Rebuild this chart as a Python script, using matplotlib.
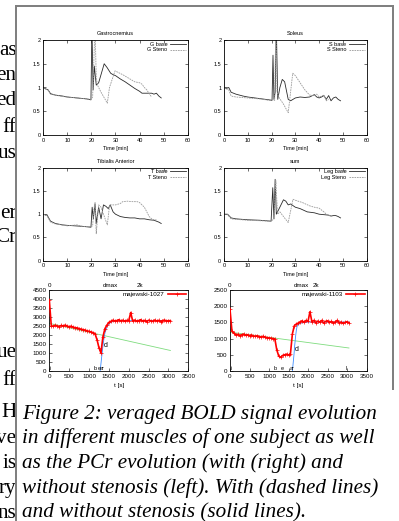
import numpy as np
import matplotlib
matplotlib.use("Agg")
import matplotlib.pyplot as plt
from matplotlib.patches import Rectangle
from matplotlib.transforms import blended_transform_factory

# ---------------- data ----------------
gas_base_t = [0, 1, 2, 3, 5, 8, 10, 12, 14, 16, 18, 19.8, 20.2, 20.7, 21.2, 22, 23, 25.3, 26.5, 28, 29, 30,
              32, 34, 36, 38, 40, 41, 43, 45, 46, 47, 48, 49]
gas_base_v = [1.0, 0.97, 0.95, 0.87, 0.84, 0.82, 0.8, 0.79, 0.78, 0.77, 0.76, 0.74, 2.3, 0.95, 1.45, 1.05, 1.1, 1.5, 1.42, 1.3, 1.27, 1.25,
              1.18, 1.12, 1.05, 0.98, 0.92, 0.88, 0.88, 0.88, 0.86, 0.88, 0.82, 0.78]
gas_sten_t = [0, 1, 2, 3, 5, 8, 10, 12, 14, 16, 18, 19.8, 20.5, 21.5, 22, 22.5, 24, 26.6, 27.5, 29.8, 31, 33,
              35, 37, 38, 40, 41, 42, 43, 44, 45]
gas_sten_v = [1.0, 0.97, 0.94, 0.86, 0.84, 0.81, 0.8, 0.79, 0.78, 0.77, 0.76, 0.75, 0.8, 2.3, 1.2, 1.05, 0.9, 0.67, 1.0, 1.35, 1.32, 1.27,
              1.21, 1.15, 1.12, 1.1, 1.07, 1.0, 0.95, 0.87, 0.8]

sol_base_t = [0, 1, 2, 3, 5, 8, 10, 13, 16, 19, 20.2, 20.6, 21, 21.5, 22, 22.6, 23.5, 24.5, 25.5, 27, 28, 30,
              32, 34, 36, 38, 39, 40, 41, 42, 43, 44, 45, 46, 47, 48, 49]
sol_base_v = [1.0, 0.98, 1.0, 0.9, 0.86, 0.82, 0.8, 0.78, 0.76, 0.74, 0.73, 1.68, 0.75, 0.9, 2.3, 0.75, 1.0, 1.17, 1.12, 0.75, 0.72, 0.78,
              0.8, 0.79, 0.8, 0.85, 0.8, 0.78, 0.8, 0.83, 0.75, 0.83, 0.72, 0.78, 0.8, 0.75, 0.72]
sol_sten_t = [0, 1, 2, 3, 5, 10, 15, 19, 20.5, 21.3, 21.8, 22.3, 23, 25, 27, 28.9, 30, 32, 34, 36, 38, 39, 40,
              42, 43, 44]
sol_sten_v = [1.0, 0.97, 0.95, 0.82, 0.8, 0.78, 0.76, 0.73, 0.75, 0.73, 2.3, 0.9, 0.8, 0.65, 0.47, 1.3, 1.25, 1.1, 0.95, 0.84, 0.83, 0.86, 0.8,
              0.84, 0.72, 0.75]

tib_base_t = [0, 1, 1.5, 3, 5, 8, 10, 13, 16, 19.8, 20.3, 20.8, 21.5, 22, 23, 24, 25, 26, 27, 27.8, 29, 30,
              32, 34, 36, 38, 40, 42, 44, 46, 47, 48, 49]
tib_base_v = [1.0, 0.98, 0.99, 0.85, 0.8, 0.77, 0.76, 0.75, 0.74, 0.72, 1.15, 0.9, 1.22, 0.8, 1.15, 0.9, 1.2, 1.17, 1.12, 1.2, 1.05, 1.0,
              0.95, 0.93, 0.92, 0.92, 0.9, 0.9, 0.88, 0.87, 0.85, 0.83, 0.8]
tib_sten_t = [0, 1.5, 3, 5, 10, 14, 16, 19.8, 20.5, 21, 21.5, 22, 23, 24, 25, 26.6, 27.5, 28, 30, 32, 33, 35,
              37, 39, 40, 41, 42, 43, 44, 45, 46, 47]
tib_sten_v = [1.0, 0.97, 0.83, 0.79, 0.75, 0.77, 0.74, 0.73, 0.75, 1.1, 1.25, 0.58, 1.2, 1.15, 1.0, 0.77, 1.18, 1.2, 1.2, 1.23, 1.27, 1.28,
              1.27, 1.27, 1.25, 1.2, 1.15, 1.05, 0.95, 0.9, 0.88, 0.88]

sum_base_t = [0, 1.5, 3, 5, 10, 15, 19.8, 20.5, 21, 21.5, 22, 23, 25, 26, 27, 28, 30, 32, 35, 38, 40, 42,
              44, 45, 46, 47, 48, 49]
sum_base_v = [1.0, 1.0, 0.92, 0.9, 0.88, 0.87, 0.85, 1.57, 0.9, 1.75, 1.0, 1.1, 1.31, 1.28, 1.2, 1.22, 1.15, 1.12, 1.05, 1.03, 1.0, 0.99,
              0.98, 0.96, 0.97, 0.97, 0.95, 0.92]
sum_sten_t = [0, 1.5, 3, 5, 10, 15, 19.8, 21, 21.8, 22.5, 23.5, 25, 27, 29, 30, 33, 36, 38, 40, 42, 43, 44, 45]
sum_sten_v = [1.0, 0.99, 0.9, 0.89, 0.87, 0.86, 0.85, 0.9, 1.72, 1.0, 1.05, 0.95, 0.82, 1.32, 1.3, 1.25, 1.18, 1.15, 1.13, 1.05, 1.0, 0.98, 0.95]

panel_titles = ["Gastrocnemius", "Soleus", "Tibialis Anterior", "sum"]
panel_labels = [("G base", "G Steno"), ("S base", "S Steno"), ("T base", "T Steno"), ("Leg base", "Leg Steno")]

# PCr time series (s) and values
pcr_t = np.arange(0, 3051, 50)
pcr_left_v = [3950, 2520, 2480, 2540, 2500, 2470, 2530, 2500, 2550, 2490,
              2460, 2490, 2430, 2410, 2390, 2360, 2320, 2300, 2270, 2230,
              2200, 2170, 2130, 2080, 1750, 1300, 1000, 1900, 2350, 2550,
              2700, 2760, 2820, 2780, 2800, 2850, 2780, 2820, 2760, 2810,
              2790, 3250, 2770, 2830, 2760, 2800, 2850, 2770, 2810, 2740,
              2820, 2790, 2760, 2830, 2780, 2810, 2750, 2800, 2830, 2770,
              2800, 2790]
pcr_right_v = [1900, 1230, 1170, 1110, 1130, 1090, 1120, 1140, 1100, 1120,
               1090, 1110, 1080, 1070, 1090, 1060, 1050, 1070, 1040, 1030,
               1020, 1010, 1000, 990, 650, 460, 420, 480, 500, 520,
               490, 540, 1150, 1400, 1450, 1480, 1520, 1550, 1500, 1560,
               1530, 1830, 1520, 1560, 1490, 1540, 1510, 1560, 1480, 1530,
               1550, 1500, 1530, 1480, 1520, 1560, 1490, 1510, 1470, 1500,
               1520, 1490]
lin_t = [0, 3050]
lin_left_v = [2650, 1140]
lin_right_v = [1200, 710]
fit_left_t = [1280, 1300, 1320, 1340, 1360, 1380, 1400, 1450, 1500, 1550, 1600, 1700, 1800, 2000, 2500, 3050]
fit_left_v = [0, 400, 800, 1200, 1550, 1850, 2100, 2450, 2620, 2700, 2750, 2780, 2790, 2800, 2800, 2800]
fit_right_t = [1600, 1620, 1640, 1660, 1680, 1700, 1720, 1750, 1800, 1900, 2000, 2500, 3050]
fit_right_v = [0, 250, 500, 800, 1050, 1250, 1380, 1430, 1470, 1500, 1510, 1510, 1510]
pcr_names = ["majewski-1027", "majewski-1103"]
pcr_ymax = [4500, 2500]
top_marks_left = [(0, "0"), (1536, "dmax"), (2291, "2k")]
top_marks_right = [(0, "0"), (1826, "dmax"), (2207, "2k")]
bot_marks_left = [(20, "i"), (1160, "b"), (1250, "e"), (1330, "ar")]
bot_marks_right = [(20, "i"), (1163, "b"), (1349, "e"), (1602, "ar"), (2993, "l")]
d_left = (1365, 1430)
d_right = (1661, 671)

caption = ["Figure 2: veraged BOLD signal evolution",
           "in different muscles of one subject as well",
           "as the PCr evolution (with (right) and",
           "without stenosis (left). With (dashed lines)",
           "and without stenosis (solid lines)."]
frag_text = ["as", "en", "ed", "ff", "us", "er", "Cr", "ue", "ff", "H", "ve", "is", "ry", "ns"]
frag_base = [55, 80, 105, 132, 158, 218, 242, 357, 385, 417, 443, 468, 493, 518]
cap_base = [419, 443.5, 468, 492.5, 517]

# ---------------- figure ----------------
W, H = 399, 521
fig = plt.figure(figsize=(W / 100, H / 100), dpi=100)
SANS = "Liberation Sans"

def add_ax(l, t, r, b):
    ax = fig.add_axes([l / W, 1 - b / H, (r - l) / W, (b - t) / H])
    ax.set_zorder(3)
    return ax

for fr, yb in zip(frag_text, frag_base):
    fig.text(16.5 / W, 1 - yb / H, fr, ha="right", va="baseline",
             fontsize=15.2, family="Liberation Serif", zorder=1)

fig.patches.append(Rectangle((15 / W, 0), 1 - 15 / W, 1, transform=fig.transFigure,
                             facecolor="white", edgecolor="none", zorder=2))

gray = "#808080"
fig.patches.append(Rectangle((15 / W, 0), 2 / W, 1 - 5 / H, transform=fig.transFigure,
                             facecolor=gray, edgecolor="none", zorder=4))
fig.patches.append(Rectangle((15 / W, 1 - 7 / H), 379 / W, 2 / H, transform=fig.transFigure,
                             facecolor=gray, edgecolor="none", zorder=4))
fig.patches.append(Rectangle((392 / W, 1 - 390 / H), 2 / W, 385 / H, transform=fig.transFigure,
                             facecolor=gray, edgecolor="none", zorder=4))

panel_data = [(gas_base_t, gas_base_v, gas_sten_t, gas_sten_v),
              (sol_base_t, sol_base_v, sol_sten_t, sol_sten_v),
              (tib_base_t, tib_base_v, tib_sten_t, tib_sten_v),
              (sum_base_t, sum_base_v, sum_sten_t, sum_sten_v)]
boxes = [(43.3, 40, 187.7, 135), (224, 40, 366.7, 135),
         (43.3, 167.7, 187.7, 260.7), (224, 167.7, 366.7, 260.7)]

for i in range(4):
    ax = add_ax(*boxes[i])
    bt, bv, st, sv = panel_data[i]
    ax.plot(bt, bv, color="#2a2a2a", lw=0.6, label=panel_labels[i][0])
    ax.plot(st, sv, color="#9a9a9a", lw=0.6, ls=(0, (2, 1)), label=panel_labels[i][1])
    ax.set_xlim(0, 60)
    ax.set_ylim(0, 2)
    ax.set_xticks(range(0, 61, 10))
    ax.set_yticks([0, 0.5, 1, 1.5, 2])
    ax.set_yticklabels(["0", "0.5", "1", "1.5", "2"])
    ax.tick_params(direction="in", length=2, width=0.4, top=True, right=True,
                   labelsize=4, pad=2)
    for lab in ax.get_xticklabels() + ax.get_yticklabels():
        lab.set_family(SANS)
    for sp in ax.spines.values():
        sp.set_linewidth(0.6)
    ax.set_title(panel_titles[i], fontsize=4, family=SANS, pad=3.5)
    ax.set_xlabel("Time [min]", fontsize=4, family=SANS, labelpad=2.5)
    ax.legend(loc="upper right", frameon=False, prop={"family": SANS, "size": 4},
              markerfirst=False, handlelength=2.8, handletextpad=0.6, labelspacing=0.15,
              borderaxespad=0.2, borderpad=0.1)

pcr_boxes = [(49.3, 290, 188.3, 371), (230, 290, 366.5, 371)]
pcr_vals = [pcr_left_v, pcr_right_v]
lin_vals = [lin_left_v, lin_right_v]
fit_ts = [fit_left_t, fit_right_t]
fit_vs = [fit_left_v, fit_right_v]
top_marks = [top_marks_left, top_marks_right]
bot_marks = [bot_marks_left, bot_marks_right]
d_pos = [d_left, d_right]

for i in range(2):
    ax = add_ax(*pcr_boxes[i])
    ax.plot(lin_t, lin_vals[i], color="#7fdc7f", lw=0.6, zorder=2)
    ax.plot(pcr_t, pcr_vals[i], color="#ff0000", lw=1.2, marker="+", ms=2.5, mew=0.5,
            label=pcr_names[i], zorder=3)
    ax.plot(fit_ts[i], fit_vs[i], color="#3c8cff", lw=0.6, zorder=2.5)
    ax.set_xlim(0, 3500)
    ax.set_ylim(0, pcr_ymax[i])
    ax.set_xticks(range(0, 3501, 500))
    ax.set_yticks(range(0, pcr_ymax[i] + 1, 500))
    ax.tick_params(direction="in", length=2, width=0.4, right=True, top=False,
                   labelsize=4.5, pad=2)
    for lab in ax.get_xticklabels() + ax.get_yticklabels():
        lab.set_family(SANS)
    for sp in ax.spines.values():
        sp.set_linewidth(0.6)
    ax.set_xlabel("t [s]", fontsize=4.5, family=SANS, labelpad=3)
    tr = blended_transform_factory(ax.transData, ax.transAxes)
    for x, s in top_marks[i]:
        ax.text(x, 1.025, s, transform=tr, ha="center", va="bottom", fontsize=4.5, family=SANS)
    for x, s in bot_marks[i]:
        ax.text(x, 0.0, s, transform=tr, ha="center", va="bottom", fontsize=4, family=SANS,
                clip_on=False)
    ax.text(d_pos[i][0], d_pos[i][1], "d", ha="left", va="center", fontsize=5, family=SANS)
    ax.legend(loc="upper right", frameon=False, prop={"family": SANS, "size": 4.5},
              markerfirst=False, handlelength=3, handletextpad=0.5,
              borderaxespad=0.2, borderpad=0.1)

for line, yb in zip(caption, cap_base):
    fig.text(22 / W, 1 - yb / H, line, ha="left", va="baseline", fontsize=15.2,
             family="Liberation Serif", style="italic", zorder=5)

fig.savefig("out.png", dpi=100)
